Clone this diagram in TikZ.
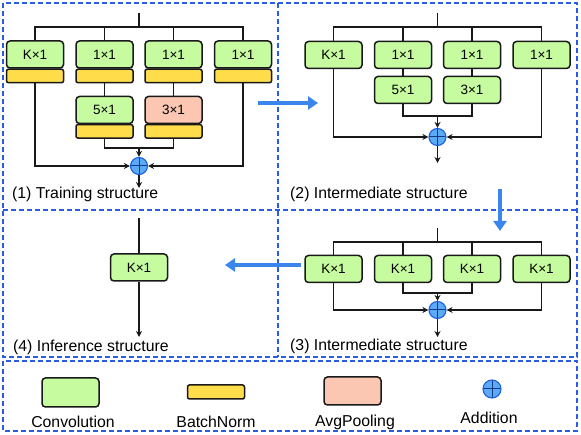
\documentclass[tikz,border=0pt]{standalone}
\usepackage{fontspec}
\setmainfont{Liberation Sans}
\usetikzlibrary{arrows.meta}
\definecolor{convg}{HTML}{C6FBA0}
\definecolor{bny}{HTML}{FFDD4A}
\definecolor{poolc}{HTML}{FBC6B2}
\definecolor{dashb}{HTML}{2A5CE0}
\definecolor{arrb}{HTML}{3A86EE}
\definecolor{addf}{HTML}{5AAAF8}
\definecolor{addd}{HTML}{1F5FD8}
\begin{document}
\begin{tikzpicture}[x=1pt,y=-1pt,
 conv/.style={draw=black!90, line width=1.5pt, rounded corners=3.5pt, fill=convg, minimum width=57pt, minimum height=27pt, inner sep=0pt, font=\fontsize{13.5}{13.5}\selectfont},
 pool/.style={conv, fill=poolc},
 bn/.style={draw=black!90, line width=1.5pt, rounded corners=2pt, fill=bny, minimum width=57pt, minimum height=13.5pt, inner sep=0pt},
 addn/.style={circle, draw=addd, line width=1.1pt, fill=addf, minimum size=17pt, inner sep=0pt, path picture={\draw[addd!60!black, line width=1pt] (path picture bounding box.north) -- (path picture bounding box.south) (path picture bounding box.west) -- (path picture bounding box.east);}},
 wire/.style={line width=1.3pt, draw=black!90},
 arr/.style={wire, -{Stealth[length=6pt,width=6pt]}},
 big/.style={line width=4pt, draw=arrb, -{Triangle[length=10pt,width=13pt]}},
 panel/.style={draw=dashb, line width=1.3pt, dash pattern=on 5pt off 3pt},
 lab/.style={anchor=west, font=\fontsize{15.8}{15.8}\selectfont, inner sep=0pt},
 leg/.style={font=\fontsize{15.8}{15.8}\selectfont, inner sep=0pt}
]
\useasboundingbox (0,0) rectangle (581,435);
% panels
\draw[panel] (3,3) rectangle (577,357);
\draw[panel] (278,3) -- (278,357);
\draw[panel] (3,210) -- (577,210);
\draw[panel] (3,361) rectangle (577,431);

% ---------- panel 1 ----------
\node[conv] (a1) at (35,54.5) {K×1};
\node[conv] (a2) at (104.5,54.5) {1×1};
\node[conv] (a3) at (173.5,54.5) {1×1};
\node[conv] (a4) at (243,54.5) {1×1};
\node[bn] (ab1) at (35,76) {};
\node[bn] (ab2) at (104.5,76) {};
\node[bn] (ab3) at (173.5,76) {};
\node[bn] (ab4) at (243,76) {};
\node[conv] (a5) at (104.5,110) {5×1};
\node[pool] (a6) at (173.5,110) {3×1};
\node[bn] (ab5) at (104.5,131.3) {};
\node[bn] (ab6) at (173.5,131.3) {};
\node[addn] (s1) at (139,166) {};
\coordinate (in1) at (139,13);
\coordinate (bar1) at (139,27);
\coordinate (m1) at (139,148);
\coordinate (o1) at (139,188);
\draw[wire] (in1) -- (bar1);
\draw[wire] (a1.north) |- (bar1) -| (a4.north);
\draw[wire] (a2.north) -- (a2.north |- bar1);
\draw[wire] (a3.north) -- (a3.north |- bar1);
\draw[wire] (ab2.south) -- (a5.north);
\draw[wire] (ab3.south) -- (a6.north);
\draw[wire] (ab5.south) |- (m1) -| (ab6.south);
\draw[arr] (m1) -- (s1.north);
\draw[arr] (ab1.south) |- (s1.west);
\draw[arr] (ab4.south) |- (s1.east);
\draw[arr] (s1.south) -- (o1);
\node[lab] (t1) at (12,194) {(1) Training structure};

% ---------- panel 2 ----------
\node[conv] (b1) at (333.5,55) {K×1};
\node[conv] (b2) at (403,55) {1×1};
\node[conv] (b3) at (472,55) {1×1};
\node[conv] (b4) at (541.5,55) {1×1};
\node[conv] (b5) at (403,90) {5×1};
\node[conv] (b6) at (472,90) {3×1};
\node[addn] (s2) at (437.5,137) {};
\coordinate (in2) at (437.5,13);
\coordinate (bar2) at (437.5,27);
\coordinate (m2) at (437.5,116);
\coordinate (o2) at (437.5,163);
\draw[wire] (in2) -- (bar2);
\draw[wire] (b1.north) |- (bar2) -| (b4.north);
\draw[wire] (b2.north) -- (b2.north |- bar2);
\draw[wire] (b3.north) -- (b3.north |- bar2);
\draw[wire] (b2.south) -- (b5.north);
\draw[wire] (b3.south) -- (b6.north);
\draw[wire] (b5.south) |- (m2) -| (b6.south);
\draw[arr] (m2) -- (s2.north);
\draw[arr] (b1.south) |- (s2.west);
\draw[arr] (b4.south) |- (s2.east);
\draw[arr] (s2.south) -- (o2);
\node[lab] (t2) at (290,194) {(2) Intermediate structure};

% ---------- panel 3 ----------
\node[conv] (c1) at (333.5,269) {K×1};
\node[conv] (c2) at (403,269) {K×1};
\node[conv] (c3) at (472,269) {K×1};
\node[conv] (c4) at (541.5,269) {K×1};
\node[addn] (s3) at (437.5,310) {};
\coordinate (in3) at (437.5,228);
\coordinate (bar3) at (437.5,242);
\coordinate (m3) at (437.5,293);
\coordinate (o3) at (437.5,337);
\draw[wire] (in3) -- (bar3);
\draw[wire] (c1.north) |- (bar3) -| (c4.north);
\draw[wire] (c2.north) -- (c2.north |- bar3);
\draw[wire] (c3.north) -- (c3.north |- bar3);
\draw[wire] (c2.south) |- (m3) -| (c3.south);
\draw[arr] (m3) -- (s3.north);
\draw[arr] (c1.south) |- (s3.west);
\draw[arr] (c4.south) |- (s3.east);
\draw[arr] (s3.south) -- (o3);
\node[lab] (t3) at (290,346) {(3) Intermediate structure};

% ---------- panel 4 ----------
\node[conv] (d1) at (139,267.5) {K×1};
\coordinate (in4) at (139,218);
\coordinate (o4) at (139,337);
\draw[wire] (in4) -- (d1.north);
\draw[arr] (d1.south) -- (o4);
\node[lab] (t4) at (13,347) {(4) Inference structure};

% ---------- big arrows ----------
\coordinate (g1s) at (258,103); \coordinate (g1e) at (318,103);
\coordinate (g2s) at (500,189); \coordinate (g2e) at (500,231);
\coordinate (g3s) at (301,265); \coordinate (g3e) at (225,265);
\draw[big] (g1s) -- (g1e);
\draw[big] (g2s) -- (g2e);
\draw[big] (g3s) -- (g3e);

% ---------- legend ----------
\node[conv, minimum height=29pt] (lc) at (70.5,392.5) {};
\node[bn, minimum height=14pt] (lb) at (216,392) {};
\node[pool, minimum height=28pt] (lp) at (352.5,391) {};
\node[addn, minimum size=18pt] (la) at (492,389) {};
\node[leg] (lct) at (73,422) {Convolution};
\node[leg] (lbt) at (216,422) {BatchNorm};
\node[leg] (lpt) at (355,422) {AvgPooling};
\node[leg] (lat) at (489,418) {Addition};
\end{tikzpicture}
\end{document}
